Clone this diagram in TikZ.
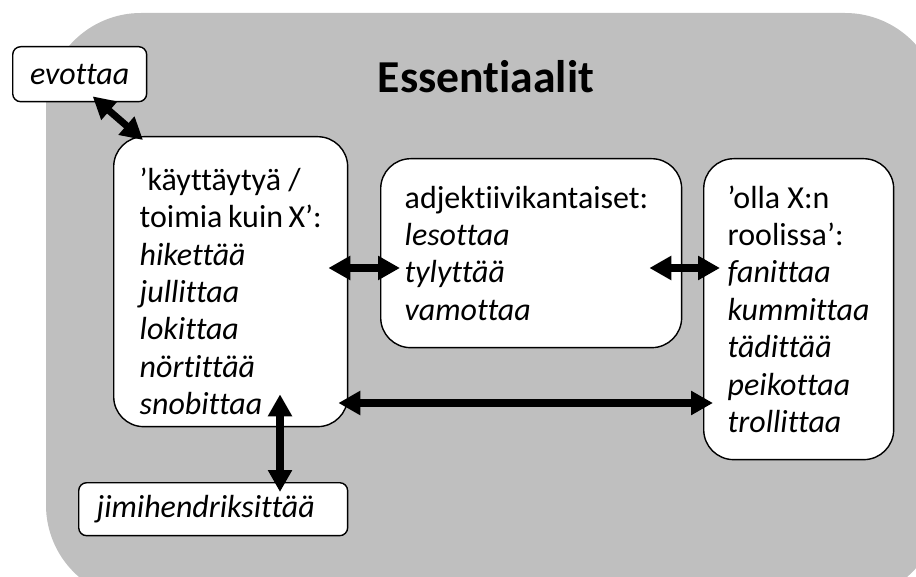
\documentclass[tikz,border=0pt]{standalone}
\usepackage{fontspec}
\setmainfont{Carlito}[Ligatures={NoCommon}]
\usepackage{xcolor}
\usepackage{tikz}
\usetikzlibrary{arrows.meta, positioning, calc}
\definecolor{panel}{RGB}{191,191,191}
\tikzset{
    bigbox/.style={rectangle, draw, fill=white, line width=0.8pt, rounded corners=0.6cm, anchor=north west, align=flush left, font=\fontsize{18.2}{21.3}\selectfont},
    smallbox/.style={rectangle, draw, fill=white, line width=0.8pt, rounded corners=0.16cm, anchor=north west, font=\fontsize{18.2}{21.3}\selectfont\itshape},
    biarrow/.style={line width=4pt, {Triangle[length=0.44cm, width=0.46cm]}-{Triangle[length=0.44cm, width=0.46cm]}}
}

\begin{document}
\begin{tikzpicture}[x=0.02cm, y=-0.02cm]
    \clip (0,0) rectangle (916,577);
    \fill[panel, rounded corners=1.9cm] (46,13) rectangle (940,600);

    \node (title) at (486,77) {\bfseries\fontsize{26}{31}\selectfont Essentiaalit};

    \node (ev) [smallbox, minimum width=2.68cm, minimum height=1.1cm] at (12,46) {evottaa};
    \node (kay) [bigbox, inner xsep=0.52cm, text width=3.64cm, minimum height=5.8cm] at (113,136)
        {\rule{0pt}{0.84cm}’käyttäytyä /\\ toimia~kuin~X’:\\ \textit{hikettää}\\ \textit{jullittaa}\\ \textit{lokittaa}\\ \textit{nörtittää}\\ \textit{snobittaa}};
    \node (adj) [bigbox, inner xsep=0.48cm, text width=5.06cm, minimum height=3.78cm] at (380,158)
        {adjektiivikantaiset:\\ \textit{lesottaa}\\ \textit{tylyttää}\\ \textit{vamottaa}};
    \node (olla) [bigbox, inner xsep=0.48cm, text width=2.84cm, minimum height=6.02cm] at (703,158)
        {’olla~X:n\\ roolissa’:\\ \textit{fanittaa}\\ \textit{kummittaa}\\ \textit{tädittää}\\ \textit{peikottaa}\\ \textit{trollittaa}};
    \node (jimi) [smallbox, inner xsep=0.36cm, text width=4.66cm, minimum height=1.06cm, align=flush left] at (78,482) {jimihendriksittää};

    % arrows between the groups
    \draw [biarrow] ([xshift=0.26cm, yshift=0.12cm]ev.south) -- ([xshift=0.6cm, yshift=-0.08cm]kay.north west);
    \draw [biarrow] ([xshift=-0.4cm]kay.east |- 0,268) -- ([xshift=0.4cm]adj.west |- 0,268);
    \draw [biarrow] ([xshift=-0.66cm]adj.east |- 0,268) -- ([xshift=0.34cm]olla.west |- 0,268);
    \draw [biarrow] ([xshift=-0.2cm]kay.east |- 0,403) -- ([xshift=0.2cm]olla.west |- 0,403);
    \draw [biarrow] ([yshift=0.66cm]kay.south -| 280,0) -- ([yshift=-0.2cm]jimi.north -| 280,0);
\end{tikzpicture}
\end{document}
